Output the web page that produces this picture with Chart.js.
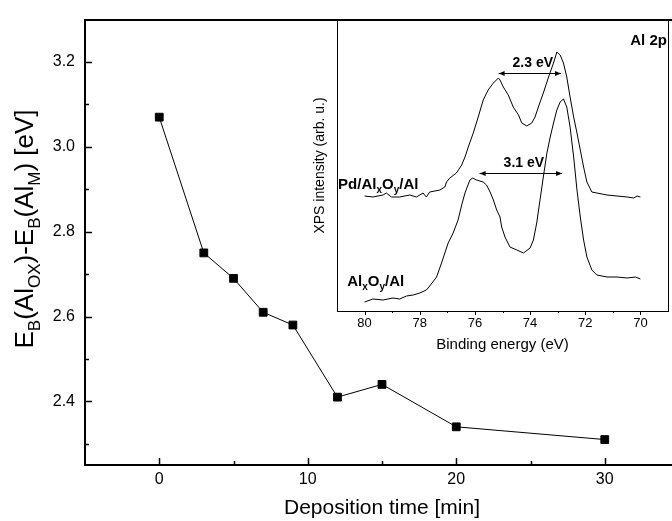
<!DOCTYPE html>
<html>
<head>
<meta charset="utf-8">
<script src="https://cdn.jsdelivr.net/npm/chart.js@4.4.1/dist/chart.umd.min.js"></script>
<style>
  html, body { margin: 0; padding: 0; background: #fff; overflow: hidden; }
  #wrap { position: relative; width: 672px; height: 521px; overflow: hidden; background: #fff; }
  #mainChart { position: absolute; left: 0; top: 0; }
  #insetChart { position: absolute; left: 300px; top: 0; }
</style>
</head>
<body>
<div id="wrap">
  <canvas id="mainChart" width="690" height="521"></canvas>
  <canvas id="insetChart" width="372" height="362"></canvas>
</div>
<script>
// main plot: core level shift vs deposition time
const depositionTime = [0, 3, 5, 7, 9, 12, 15, 20, 30]
const energyShift = [3.07, 2.75, 2.69, 2.61, 2.58, 2.41, 2.44, 2.34, 2.31]
const timeTicks = [0, 10, 20, 30]
const timeMinorTicks = [5, 15, 25]
const shiftTicks = [2.4, 2.6, 2.8, 3.0, 3.2]
const shiftMinorTicks = [2.3, 2.5, 2.7, 2.9, 3.1]

// inset: Al 2p spectra
const pdEnergy = [80.0, 79.70, 79.33, 79.21, 79.03, 78.73, 78.36, 78.12, 77.88, 77.76, 77.64, 77.27, 77.09, 77.03,
  76.91, 76.67, 76.48, 76.36, 76.24, 76.06, 75.88, 75.70, 75.52, 75.33, 75.15, 75.09, 74.97, 74.79, 74.61, 74.42,
  74.30, 74.12, 73.94, 73.82, 73.70, 73.52, 73.33, 73.15, 73.03, 72.91, 72.79, 72.67, 72.55, 72.42, 72.30, 72.18,
  72.06, 71.94, 71.76, 71.58, 71.21, 70.85, 70.48, 70.24, 70.12, 70.0]
const pdIntensity = [114, 113, 115, 117, 113, 113, 115, 113, 117, 113, 118, 120, 123, 128,
  132, 137, 145, 153, 163, 177, 193, 210, 220, 227, 232, 230, 223, 215, 203, 195,
  187, 184, 187, 193, 203, 217, 233, 247, 258, 255, 247, 233, 213, 193, 177, 160,
  143, 128, 118, 117, 115, 114, 113, 112, 114, 113]
const oxEnergy = [80.0, 79.70, 79.33, 78.97, 78.73, 78.48, 78.24, 78.0, 77.76, 77.64, 77.39, 77.21, 77.09, 76.97,
  76.79, 76.61, 76.48, 76.36, 76.28, 76.18, 76.08, 75.94, 75.70, 75.58, 75.45, 75.33, 75.21, 75.09, 75.03, 74.91,
  74.73, 74.48, 74.24, 74.0, 73.88, 73.76, 73.64, 73.52, 73.39, 73.27, 73.15, 73.03, 72.91, 72.79, 72.67, 72.55,
  72.42, 72.30, 72.18, 72.06, 71.94, 71.76, 71.58, 71.21, 70.85, 70.48, 70.18, 70.0]
const oxIntensity = [8, 11, 10, 12, 11, 14, 15, 17, 20, 24, 33, 47, 57, 67,
  77, 90, 105, 117, 123, 130, 132, 130, 128, 125, 118, 110, 100, 93, 83, 73,
  63, 60, 57, 62, 70, 87, 110, 133, 157, 173, 187, 200, 208, 211, 203, 183,
  153, 120, 93, 70, 53, 40, 35, 33, 33, 32, 33, 31]
const energyTicks = [80, 78, 76, 74, 72, 70]
const energyMinorTicks = [79, 77, 75, 73, 71]
// peak separations: [from, to, level, label]
const separations = [
  [75.14, 72.88, 237, '2.3 eV'],
  [75.83, 72.84, 137, '3.1 eV']
]

const FONT = '"Liberation Sans", Arial, sans-serif'

const fixedTicks = values => scale => { scale.ticks = values.map(v => ({value: v})) }

function tickMarks(ctx, scale, values, length, side) {
  // side 1 = into the plot, -1 = away from it
  values.forEach(v => {
    ctx.beginPath()
    if (scale.isHorizontal()) {
      const px = Math.round(scale.getPixelForValue(v)) + 0.5
      ctx.moveTo(px, scale.top)
      ctx.lineTo(px, scale.top - side * length)
    } else {
      const py = Math.round(scale.getPixelForValue(v)) + 0.5
      ctx.moveTo(scale.right, py)
      ctx.lineTo(scale.right + side * length, py)
    }
    ctx.stroke()
  })
}

// text with subscripts, parts = [[text, isSub], ...]
function richText(ctx, parts, x, y, size, subSize, align, weight) {
  const main = `${weight} ${size}px ${FONT}`
  const sub = `${weight} ${subSize}px ${FONT}`
  let total = 0
  parts.forEach(p => { ctx.font = p[1] ? sub : main; total += ctx.measureText(p[0]).width })
  let cx = align === 'center' ? x - total / 2 : align === 'right' ? x - total : x
  ctx.textAlign = 'left'
  ctx.textBaseline = 'alphabetic'
  parts.forEach(p => {
    ctx.font = p[1] ? sub : main
    ctx.fillText(p[0], cx, p[1] ? y + size * 0.28 : y)
    cx += ctx.measureText(p[0]).width
  })
}

const mainDecor = {
  id: 'mainDecor',
  afterDraw(chart) {
    const {ctx, scales: {x, y}} = chart
    ctx.save()
    ctx.strokeStyle = '#000'
    ctx.lineWidth = 1.5
    tickMarks(ctx, x, timeTicks, 7, 1)
    tickMarks(ctx, x, timeMinorTicks, 4, 1)
    tickMarks(ctx, y, shiftTicks, 7, 1)
    tickMarks(ctx, y, shiftMinorTicks, 4, 1)
    // rotated y title with subscripts
    ctx.translate(33, 229)
    ctx.rotate(-Math.PI / 2)
    ctx.fillStyle = '#000'
    richText(ctx, [['E', 0], ['B', 1], ['(Al', 0], ['OX', 1], [')-E', 0], ['B', 1], ['(Al', 0], ['M', 1], [') [eV]', 0]],
      0, 0, 26, 17, 'center', 'normal')
    ctx.restore()
  }
}

const insetDecor = {
  id: 'insetDecor',
  afterDraw(chart) {
    const {ctx, scales: {x, y}} = chart
    ctx.save()
    ctx.strokeStyle = '#000'
    ctx.fillStyle = '#000'
    ctx.lineWidth = 1
    tickMarks(ctx, x, energyTicks, 4, -1)
    tickMarks(ctx, x, energyMinorTicks, 2, -1)

    separations.forEach(([from, to, level, label]) => {
      const x1 = x.getPixelForValue(from)
      const x2 = x.getPixelForValue(to)
      const py = Math.round(y.getPixelForValue(level)) + 0.5
      ctx.beginPath()
      ctx.moveTo(x1, py)
      ctx.lineTo(x2, py)
      ctx.stroke()
      ;[[x1, 1], [x2, -1]].forEach(([ax, d]) => {
        ctx.beginPath()
        ctx.moveTo(ax, py)
        ctx.lineTo(ax + d * 6, py - 2.5)
        ctx.lineTo(ax + d * 6, py + 2.5)
        ctx.closePath()
        ctx.fill()
      })
      ctx.font = `bold 14px ${FONT}`
      ctx.textAlign = 'center'
      ctx.textBaseline = 'alphabetic'
      ctx.fillText(label, (x1 + x2) / 2 + 3, py - 7)
    })

    richText(ctx, [['Pd/Al', 0], ['x', 1], ['O', 0], ['y', 1], ['/Al', 0]],
      x.getPixelForValue(80.96), y.getPixelForValue(121), 15, 10, 'left', 'bold')
    richText(ctx, [['Al', 0], ['x', 1], ['O', 0], ['y', 1], ['/Al', 0]],
      x.getPixelForValue(80.63), y.getPixelForValue(24), 15, 10, 'left', 'bold')
    richText(ctx, [['Al 2p', 0]], x.getPixelForValue(69.04), y.getPixelForValue(265), 15, 10, 'right', 'bold')
    ctx.restore()
  }
}

new Chart(document.getElementById('mainChart'), {
  type: 'scatter',
  data: {
    datasets: [{
      data: depositionTime.map((t, i) => ({x: t, y: energyShift[i]})),
      showLine: true,
      borderColor: '#000',
      borderWidth: 1,
      backgroundColor: '#000',
      pointStyle: 'rect',
      pointRadius: 5.5,
      pointBorderWidth: 1
    }]
  },
  options: {
    responsive: false,
    animation: false,
    layout: {padding: {top: 13, right: 11, left: 0, bottom: 0}},
    plugins: {legend: {display: false}, tooltip: {enabled: false}},
    scales: {
      x: {
        type: 'linear', min: -5, max: 35,
        grid: {display: false, drawTicks: false},
        border: {display: true, color: '#000', width: 2},
        ticks: {padding: 5, color: '#000', font: {family: FONT, size: 16}},
        afterBuildTicks: fixedTicks(timeTicks),
        title: {display: true, text: 'Deposition time [min]', color: '#000', font: {family: FONT, size: 21}, padding: {top: 0, bottom: 0}},
        afterFit: s => { s.height = 56 }
      },
      x2: {
        type: 'linear', position: 'top', min: -5, max: 35,
        grid: {display: false, drawTicks: false},
        border: {display: true, color: '#000', width: 2},
        ticks: {display: false},
        afterFit: s => { s.height = 0 }
      },
      y: {
        min: 2.25, max: 3.3,
        grid: {display: false, drawTicks: false},
        border: {display: true, color: '#000', width: 2},
        ticks: {padding: 10, color: '#000', font: {family: FONT, size: 16}, callback: v => v.toFixed(1)},
        afterBuildTicks: fixedTicks(shiftTicks),
        afterFit: s => { s.width = 85 }
      }
    }
  },
  plugins: [mainDecor]
})

new Chart(document.getElementById('insetChart'), {
  type: 'scatter',
  data: {
    datasets: [
      {
        label: 'Pd/AlxOy/Al',
        data: pdEnergy.map((e, i) => ({x: e, y: pdIntensity[i]})),
        showLine: true, borderColor: '#000', borderWidth: 1, pointRadius: 0
      },
      {
        label: 'AlxOy/Al',
        data: oxEnergy.map((e, i) => ({x: e, y: oxIntensity[i]})),
        showLine: true, borderColor: '#000', borderWidth: 1, pointRadius: 0
      }
    ]
  },
  options: {
    responsive: false,
    animation: false,
    layout: {padding: {top: 20, right: 4, left: 0, bottom: 0}},
    plugins: {legend: {display: false}, tooltip: {enabled: false}},
    scales: {
      x: {
        type: 'linear', reverse: true, min: 69, max: 81,
        grid: {display: false, drawTicks: false},
        border: {display: true, color: '#000', width: 1},
        ticks: {padding: 5, color: '#000', font: {family: FONT, size: 13}},
        afterBuildTicks: fixedTicks(energyTicks),
        title: {display: true, text: 'Binding energy (eV)', color: '#000', font: {family: FONT, size: 15}, padding: {top: 0, bottom: 8}},
        afterFit: s => { s.height = 51 }
      },
      x2: {
        type: 'linear', position: 'top', min: 0, max: 1,
        grid: {display: false, drawTicks: false},
        border: {display: true, color: '#000', width: 1},
        ticks: {display: false},
        afterFit: s => { s.height = 0 }
      },
      y: {
        min: -1, max: 290,
        grid: {display: false, drawTicks: false},
        border: {display: true, color: '#000', width: 1},
        ticks: {display: false},
        title: {display: true, text: 'XPS intensity (arb. u.)', color: '#000', font: {family: FONT, size: 14}, padding: {top: 12, bottom: 0}},
        afterFit: s => { s.width = 37 }
      },
      y2: {
        type: 'linear', position: 'right', min: 0, max: 1,
        grid: {display: false, drawTicks: false},
        border: {display: true, color: '#000', width: 1},
        ticks: {display: false},
        afterFit: s => { s.width = 0 }
      }
    }
  },
  plugins: [insetDecor]
})
</script>
</body>
</html>
